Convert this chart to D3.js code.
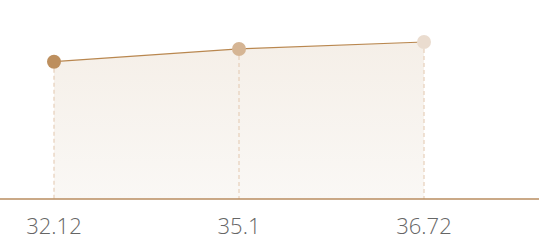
<!DOCTYPE html>
<meta charset="utf-8">
<html>
<head>
  <script src="https://cdn.jsdelivr.net/npm/d3@7"></script>
  <style>
    body { margin: 0; background: #fff; }
    svg { display: block; }
  </style>
</head>
<body>
<script>
  var categories = ["32.12", "35.1", "36.72"];
  var values = [32.12, 35.1, 36.72];
  var pointColors = ["#bd8f5e", "#d5b594", "#eadccf"];

  var width = 541, height = 240,
      baseY = 199;

  var svg = d3.select("body").append("svg")
      .attr("width", width)
      .attr("height", height);

  var x = d3.scalePoint().domain(categories).range([54, 424]);
  var y = d3.scaleLinear().domain([0, 40]).range([baseY, 28]);

  var data = categories.map(function(c, i) { return {cat: c, v: values[i], color: pointColors[i]}; });

  var grad = svg.append("defs").append("linearGradient")
      .attr("id", "fade").attr("x1", 0).attr("x2", 0).attr("y1", 0).attr("y2", 1);
  grad.append("stop").attr("offset", "0%").attr("stop-color", "#f5efe8");
  grad.append("stop").attr("offset", "100%").attr("stop-color", "#faf8f5");

  var area = d3.area()
      .x(function(d) { return x(d.cat); })
      .y0(baseY)
      .y1(function(d) { return y(d.v); });

  svg.append("path").datum(data)
      .attr("d", area)
      .attr("fill", "url(#fade)");

  // dashed drop lines
  svg.selectAll(".drop").data(data).enter().append("line")
      .attr("x1", function(d) { return x(d.cat); })
      .attr("x2", function(d) { return x(d.cat); })
      .attr("y1", function(d) { return y(d.v); })
      .attr("y2", baseY)
      .attr("stroke", "#e6cfb9")
      .attr("stroke-width", 1.2)
      .attr("stroke-dasharray", "4,3");

  var line = d3.line()
      .x(function(d) { return x(d.cat); })
      .y(function(d) { return y(d.v); });

  svg.append("path").datum(data)
      .attr("d", line)
      .attr("fill", "none")
      .attr("stroke", "#b9874f")
      .attr("stroke-width", 1.2);

  // x axis
  svg.append("line")
      .attr("x1", 0).attr("x2", 539)
      .attr("y1", baseY).attr("y2", baseY)
      .attr("stroke", "#b98c5f")
      .attr("stroke-width", 1.3);

  svg.selectAll(".lbl").data(data).enter().append("text")
      .attr("x", function(d) { return x(d.cat); })
      .attr("y", 234)
      .attr("text-anchor", "middle")
      .attr("font-family", "Open Sans, sans-serif")
      .attr("font-size", "22px")
      .attr("font-weight", 300)
      .attr("fill", "#666")
      .text(function(d) { return d.cat; });

  svg.selectAll(".pt").data(data).enter().append("circle")
      .attr("cx", function(d) { return x(d.cat); })
      .attr("cy", function(d) { return y(d.v); })
      .attr("r", 7)
      .attr("fill", function(d) { return d.color; });
</script>
</body>
</html>
